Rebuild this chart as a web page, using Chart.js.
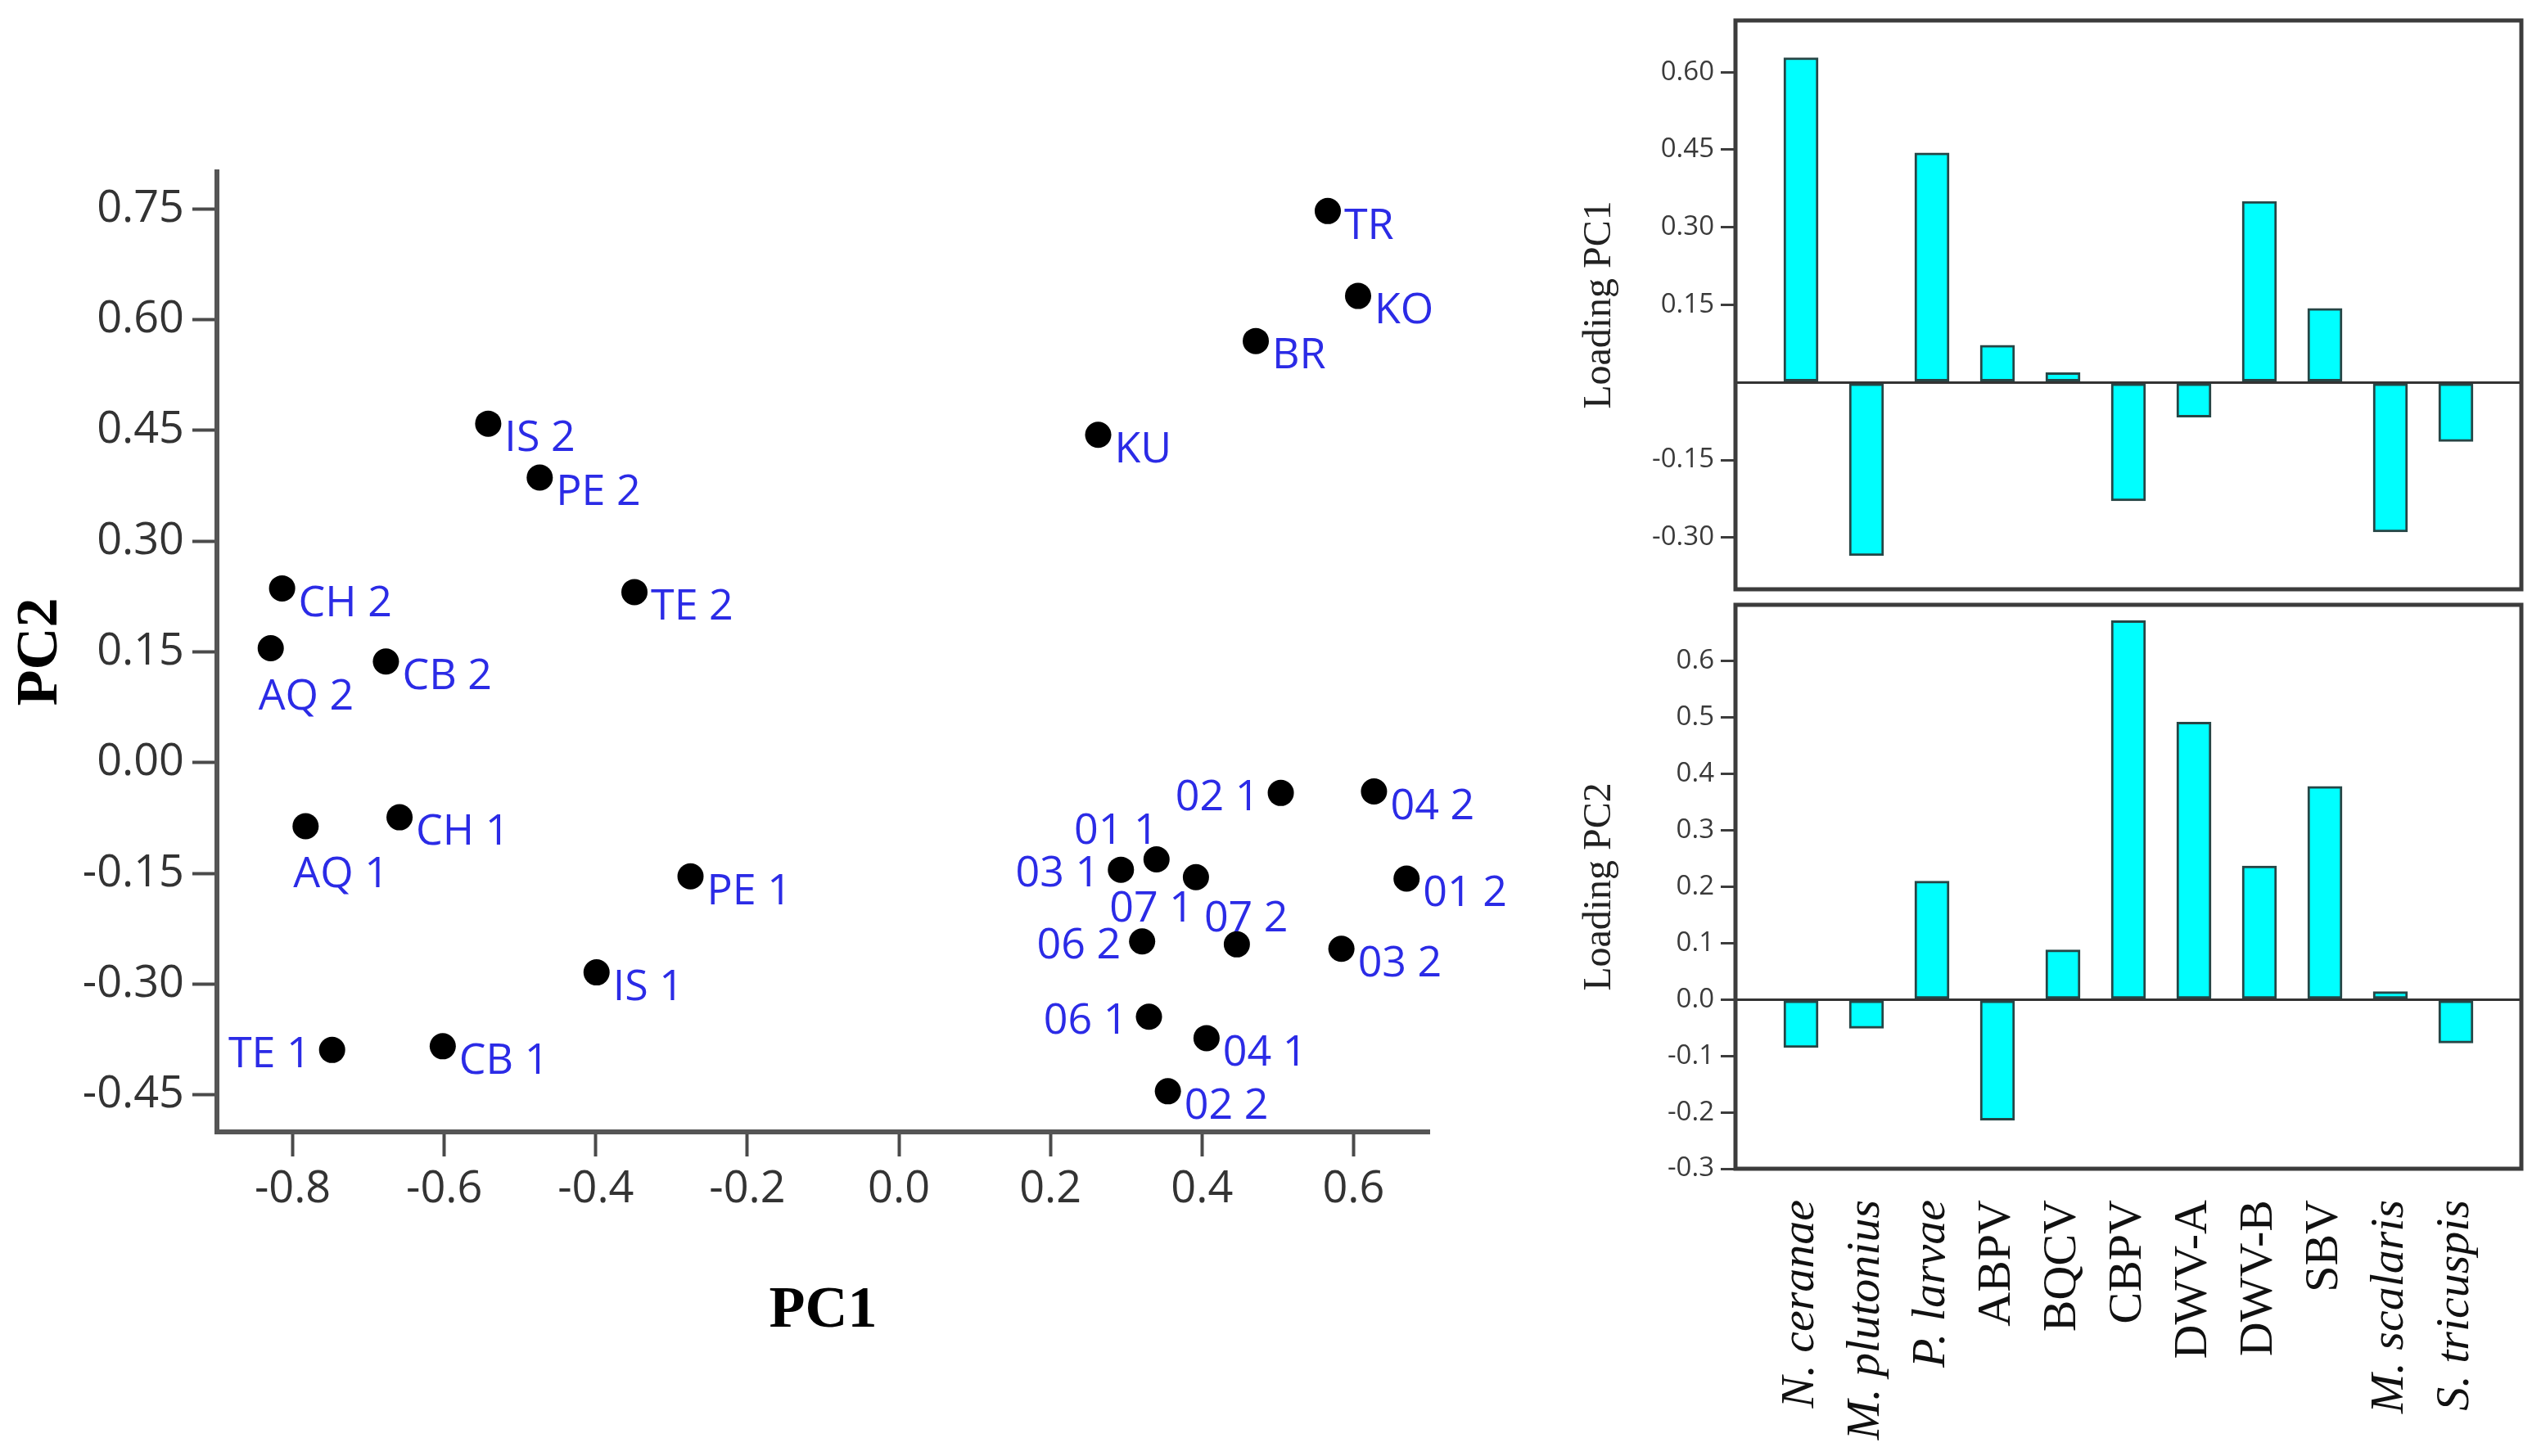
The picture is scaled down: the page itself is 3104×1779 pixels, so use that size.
<!DOCTYPE html>
<html>
<head>
<meta charset="utf-8">
<script src="https://cdn.jsdelivr.net/npm/chart.js@4.4.1/dist/chart.umd.min.js"></script>
<style>
  html, body { margin: 0; padding: 0; background: #fff; }
  body { position: relative; width: 3104px; height: 1779px; overflow: hidden; }
  canvas { position: absolute; }
  #scoreChart { left: 0; top: 0; }
  #pc1Chart { left: 1880px; top: 0; }
  #pc2Chart { left: 1880px; top: 730px; }
</style>
</head>
<body>
<canvas id="scoreChart" width="1900" height="1779" style="width:1900px;height:1779px"></canvas>
<canvas id="pc1Chart" width="1224" height="730" style="width:1224px;height:730px"></canvas>
<canvas id="pc2Chart" width="1224" height="1049" style="width:1224px;height:1049px"></canvas>
<script>
/* PCA scores + loadings */

// score plot
const sampleNames = ['TR', 'KO', 'BR', 'KU', 'IS 2', 'PE 2', 'TE 2', 'CH 2', 'AQ 2', 'CB 2',
  'AQ 1', 'CH 1', 'PE 1', 'IS 1', 'TE 1', 'CB 1',
  '02 1', '04 2', '01 1', '03 1', '07 1', '01 2', '06 2', '07 2', '03 2', '06 1', '04 1', '02 2'];
const pc1Scores = [0.566, 0.606, 0.471, 0.263, -0.542, -0.474, -0.349, -0.814, -0.829, -0.677,
  -0.783, -0.659, -0.275, -0.399, -0.748, -0.602,
  0.504, 0.627, 0.340, 0.293, 0.392, 0.670, 0.321, 0.446, 0.584, 0.330, 0.406, 0.355];
const pc2Scores = [0.747, 0.632, 0.571, 0.444, 0.459, 0.386, 0.231, 0.236, 0.155, 0.137,
  -0.086, -0.074, -0.154, -0.284, -0.389, -0.384,
  -0.041, -0.039, -0.131, -0.145, -0.155, -0.157, -0.242, -0.246, -0.252, -0.344, -0.373, -0.445];
// where each label sits next to its dot
const labelSide = ['r', 'r', 'r', 'r', 'r', 'r', 'r', 'r', 'b', 'r',
  'b', 'r', 'r', 'r', 'l', 'r',
  'l', 'r', 'tl', 'l', 'bl', 'r', 'l', 't', 'r', 'l', 'r', 'r'];
const scoreXTicks = [-0.8, -0.6, -0.4, -0.2, 0, 0.2, 0.4, 0.6];
const scoreYTicks = [-0.45, -0.30, -0.15, 0, 0.15, 0.30, 0.45, 0.60, 0.75];

// loadings
const variables = ['N. ceranae', 'M. plutonius', 'P. larvae', 'ABPV', 'BQCV', 'CBPV',
  'DWV-A', 'DWV-B', 'SBV', 'M. scalaris', 'S. tricuspis'];
const loadingPC1 = [0.628, -0.335, 0.444, 0.072, 0.019, -0.229, -0.067, 0.350, 0.143, -0.289, -0.114];
const loadingPC2 = [-0.085, -0.051, 0.210, -0.214, 0.088, 0.672, 0.492, 0.237, 0.378, 0.014, -0.077];
const pc1Ticks = [-0.30, -0.15, 0, 0.15, 0.30, 0.45, 0.60];
const pc2Ticks = [-0.3, -0.2, -0.1, 0, 0.1, 0.2, 0.3, 0.4, 0.5, 0.6];

const SANS = '"Open Sans", "Noto Sans", sans-serif';
const SERIF = '"Liberation Serif", "DejaVu Serif", serif';
const LABEL_BLUE = '#2b2be6';

const anchors = {
  r:  { dx: 20,  dy: 19, align: 'left' },
  l:  { dx: -26, dy: 6,  align: 'right' },
  b:  { dx: -15, dy: 60, align: 'left' },
  tl: { dx: 2,   dy: -34, align: 'right' },
  bl: { dx: -3,  dy: 39, align: 'right' },
  t:  { dx: -40, dy: -31, align: 'left' },
};

const fixTicks = (vals) => (axis) => { axis.ticks = vals.map((v) => ({ value: v })); };

const pointLabels = {
  id: 'pointLabels',
  afterDatasetsDraw(chart) {
    const ctx = chart.ctx;
    ctx.save();
    ctx.font = `52px ${SANS}`;
    ctx.fillStyle = LABEL_BLUE;
    ctx.textBaseline = 'middle';
    chart.getDatasetMeta(0).data.forEach((p, i) => {
      const a = anchors[labelSide[i]];
      ctx.textAlign = a.align;
      ctx.fillText(sampleNames[i], p.x + a.dx, p.y + a.dy);
    });
    ctx.restore();
  },
};

const frame = {
  id: 'frame',
  afterDraw(chart) {
    const { left, top, right, bottom } = chart.chartArea;
    const ctx = chart.ctx;
    ctx.save();
    ctx.strokeStyle = '#3c3c3c';
    ctx.lineWidth = 5;
    ctx.strokeRect(left, top, right - left, bottom - top);
    ctx.restore();
  },
};

new Chart(document.getElementById('scoreChart'), {
  type: 'scatter',
  data: {
    datasets: [{
      data: pc1Scores.map((x, i) => ({ x, y: pc2Scores[i] })),
      pointRadius: 16,
      pointHoverRadius: 16,
      backgroundColor: '#000',
      borderWidth: 0,
    }],
  },
  options: {
    responsive: false,
    animation: false,
    devicePixelRatio: 1,
    layout: { padding: { top: 210, right: 154, bottom: 0, left: 0 } },
    plugins: { legend: { display: false }, tooltip: { enabled: false } },
    scales: {
      x: {
        type: 'linear', min: -0.9, max: 0.7,
        afterBuildTicks: fixTicks(scoreXTicks),
        afterFit: (s) => { s.height = 396; },
        grid: { drawOnChartArea: false, drawTicks: true, tickLength: 30, tickWidth: 4, tickColor: '#4a4a4a' },
        border: { display: true, color: '#555', width: 6 },
        ticks: { color: '#333', font: { family: SANS, size: 54 }, padding: 8, maxRotation: 0,
          callback: (v) => v.toFixed(1) },
        title: { display: true, text: 'PC1', color: '#000',
          font: { family: SERIF, size: 72, weight: 'bold' }, padding: { top: 0, bottom: 133 } },
      },
      y: {
        type: 'linear', min: -0.5, max: 0.8,
        afterBuildTicks: fixTicks(scoreYTicks),
        afterFit: (s) => { s.width = 265; },
        grid: { drawOnChartArea: false, drawTicks: true, tickLength: 30, tickWidth: 4, tickColor: '#4a4a4a' },
        border: { display: true, color: '#555', width: 6 },
        ticks: { color: '#333', font: { family: SANS, size: 54 }, padding: 10,
          callback: (v) => v.toFixed(2) },
        title: { display: true, text: 'PC2', color: '#000',
          font: { family: SERIF, size: 72, weight: 'bold' }, padding: { top: 7, bottom: 0 } },
      },
    },
  },
  plugins: [pointLabels],
});

function loadingChart(id, values, yMin, yMax, yTicks, digits, title, showCats, padding, xHeight) {
  return new Chart(document.getElementById(id), {
    type: 'bar',
    data: {
      datasets: [{
        data: values.map((v, i) => ({ x: i, y: v })),
        backgroundColor: '#00ffff',
        borderColor: '#264646',
        borderWidth: 3,
        borderSkipped: false,
        barThickness: 42,
      }],
    },
    options: {
      responsive: false,
      animation: false,
      devicePixelRatio: 1,
      layout: { padding },
      plugins: { legend: { display: false }, tooltip: { enabled: false } },
      scales: {
        x: {
          type: 'linear', min: -1, max: variables.length, offset: false,
          display: showCats,
          afterBuildTicks: fixTicks(variables.map((_, i) => i)),
          afterFit: (s) => {
            if (xHeight) s.height = xHeight;
            s.paddingLeft = 0; s.paddingRight = 0;
          },
          grid: { display: false, drawTicks: false, tickLength: 0, offset: false },
          border: { display: false },
          ticks: {
            autoSkip: false, minRotation: 90, maxRotation: 90, padding: 38, color: '#111',
            font: (c) => {
              const name = variables[c.index] || '';
              return { family: SERIF, size: 58, style: name.includes('.') ? 'italic' : 'normal' };
            },
            callback: (v) => variables[v],
          },
        },
        y: {
          min: yMin, max: yMax,
          afterBuildTicks: fixTicks(yTicks),
          afterFit: (s) => { s.width = 240; s.paddingTop = 0; s.paddingBottom = 0; },
          grid: {
            drawOnChartArea: true, drawTicks: true, tickLength: 18, tickWidth: 3,
            color: (c) => (c.tick && c.tick.value === 0 ? '#333' : 'rgba(0,0,0,0)'),
            lineWidth: 3,
            tickColor: (c) => (c.tick && c.tick.value === 0 && digits === 2 ? 'rgba(0,0,0,0)' : '#3c3c3c'),
          },
          border: { display: false },
          ticks: {
            color: '#3a3a3a', font: { family: SANS, size: 33 }, padding: 8,
            callback: (v) => (digits === 2 && v === 0 ? '' : v.toFixed(digits)),
          },
          title: { display: true, text: title, color: '#222',
            font: { family: SERIF, size: 48 }, padding: { top: 46, bottom: 0 } },
        },
      },
    },
    plugins: [frame],
  });
}

loadingChart('pc1Chart', loadingPC1, -0.40, 0.70, pc1Ticks, 2, 'Loading PC1', false,
  { top: 25, right: 24, bottom: 10, left: 0 }, 0);
loadingChart('pc2Chart', loadingPC2, -0.30, 0.70, pc2Ticks, 1, 'Loading PC2', true,
  { top: 9, right: 24, bottom: 0, left: 0 }, 351);
</script>
</body>
</html>
